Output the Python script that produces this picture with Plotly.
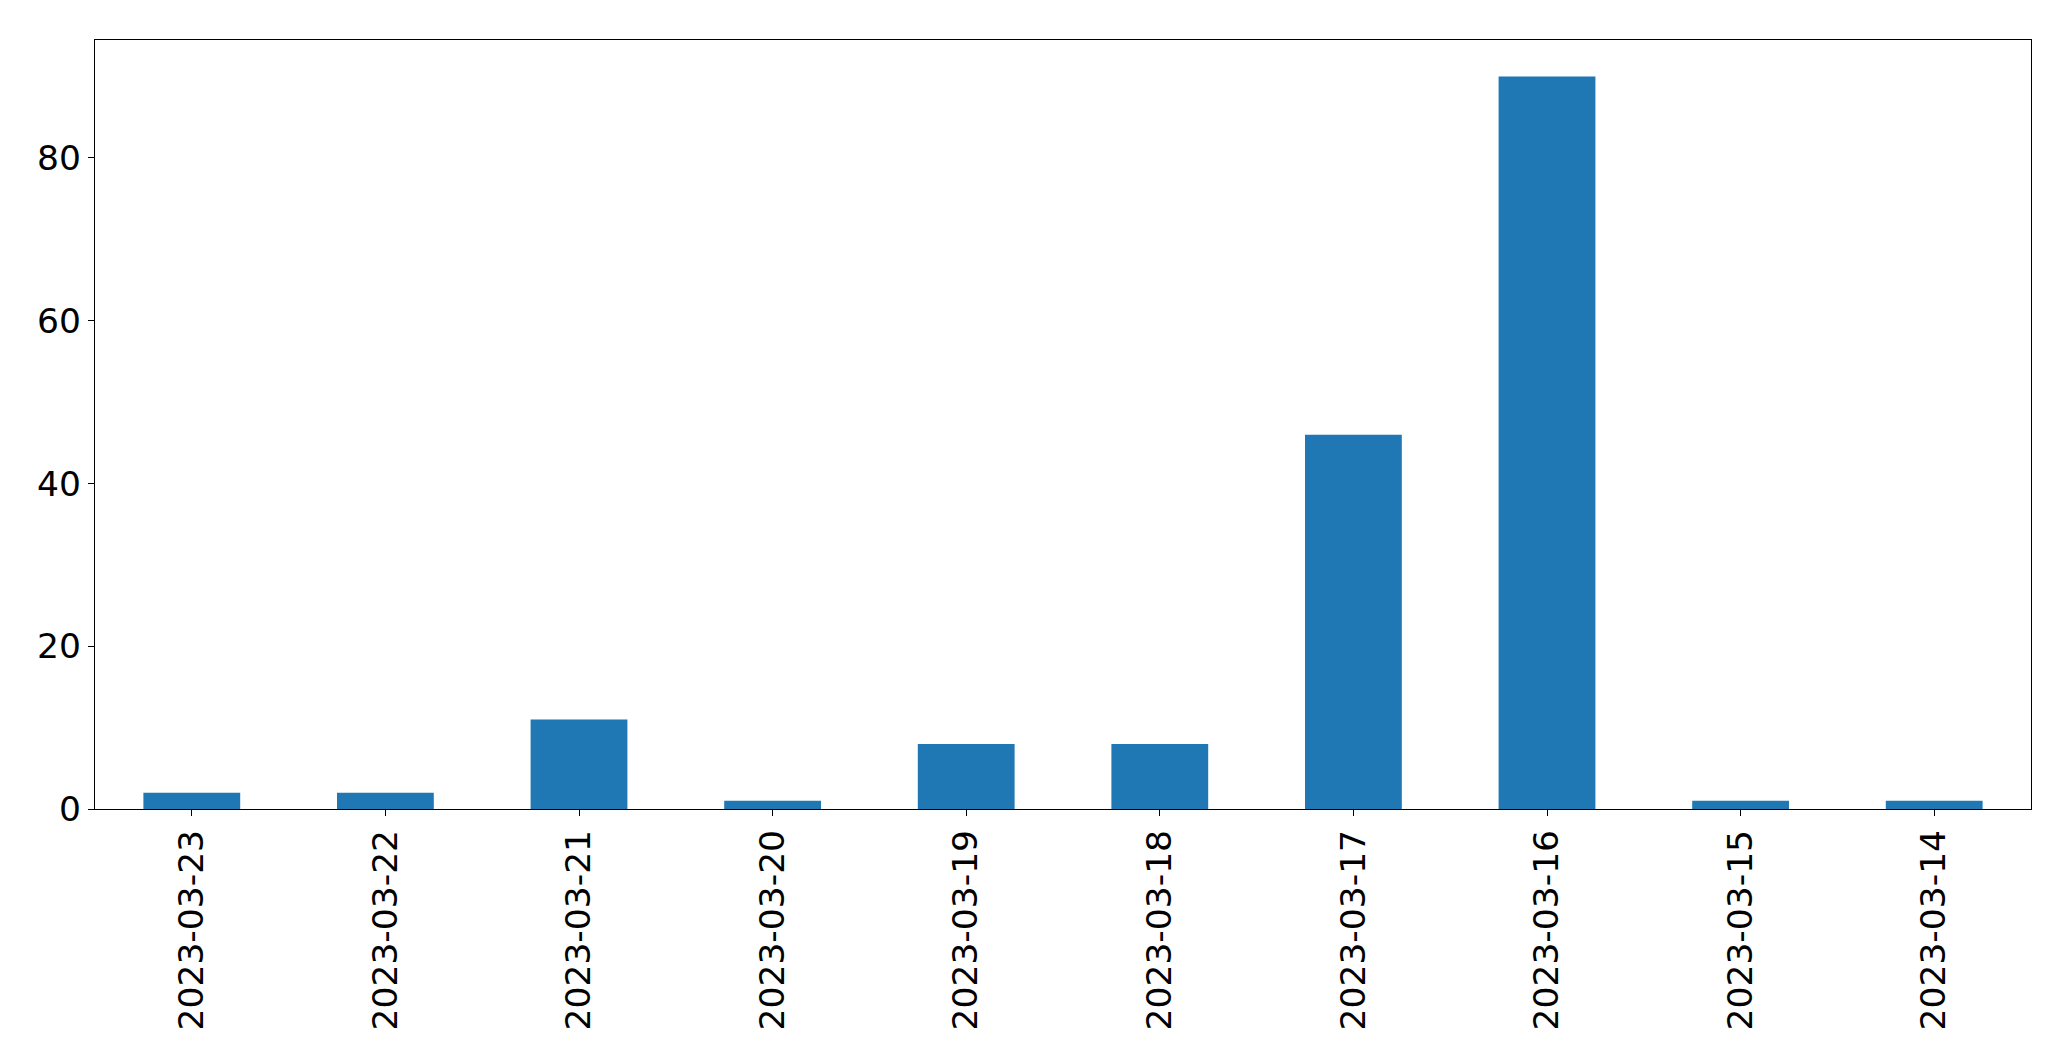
import plotly.graph_objects as go

dates = ["2023-03-23", "2023-03-22", "2023-03-21", "2023-03-20", "2023-03-19",
         "2023-03-18", "2023-03-17", "2023-03-16", "2023-03-15", "2023-03-14"]
counts = [2, 2, 11, 1, 8, 8, 46, 90, 1, 1]

fig = go.Figure(go.Bar(x=dates, y=counts, marker_color="#1f77b4", width=0.5,
                       marker_line_width=0))

font = dict(family="DejaVu Sans", size=34.5, color="black")
fig.update_layout(
    width=2071, height=1061,
    margin=dict(l=86.5, r=47.5, t=31.5, b=260),
    plot_bgcolor="white", paper_bgcolor="white",
    showlegend=False,
    font=font,
)
fig.update_xaxes(type="category", range=[-0.5, 9.5], tickangle=-90,
                 showline=True, linecolor="black", linewidth=1.3, mirror=True,
                 ticks="outside", ticklen=6, tickwidth=1.3, tickcolor="black",
                 showgrid=False, zeroline=False, tickfont=font)
fig.update_yaxes(range=[0, 94.5], tickvals=[0, 20, 40, 60, 80],
                 showline=True, linecolor="black", linewidth=1.3, mirror=True,
                 ticks="outside", ticklen=6, tickwidth=1.3, tickcolor="black",
                 showgrid=False, zeroline=False, tickfont=font)

fig.write_html("out.html")
